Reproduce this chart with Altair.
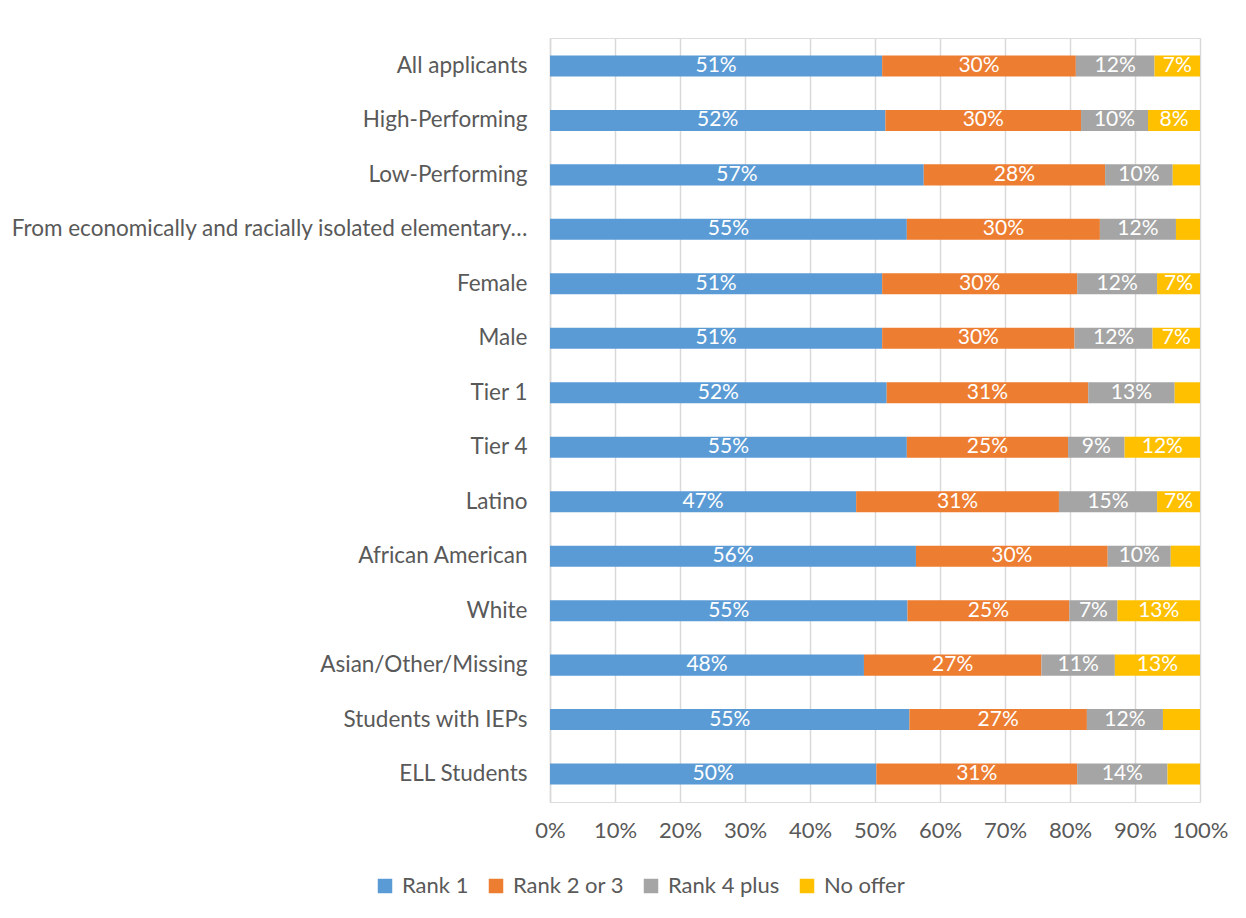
import altair as alt
import pandas as pd

categories = [
    "All applicants", "High-Performing", "Low-Performing",
    "From economically and racially isolated elementary…",
    "Female", "Male", "Tier 1", "Tier 4", "Latino", "African American",
    "White", "Asian/Other/Missing", "Students with IEPs", "ELL Students",
]
series = ["Rank 1", "Rank 2 or 3", "Rank 4 plus", "No offer"]
rank1 = [51.1, 51.6, 57.5, 54.9, 51.1, 51.1, 51.8, 54.9, 47.1, 56.3, 55.0, 48.3, 55.3, 50.2]
rank23 = [29.8, 30.1, 27.9, 29.7, 30.0, 29.6, 31.0, 24.8, 31.2, 29.5, 24.9, 27.3, 27.3, 30.9]
rank4 = [12.1, 10.3, 10.4, 11.7, 12.3, 12.0, 13.3, 8.7, 15.1, 9.7, 7.4, 11.3, 11.7, 13.9]
nooffer = [7.0, 8.0, 4.2, 3.7, 6.6, 7.3, 3.9, 11.6, 6.6, 4.5, 12.7, 13.1, 5.7, 5.0]
colors = ["#5B9BD5", "#ED7D31", "#A5A5A5", "#FFC000"]

rows = []
for i, c in enumerate(categories):
    for j, (s, vals) in enumerate(zip(series, [rank1, rank23, rank4, nooffer])):
        rows.append({"cat": c, "series": s, "order": j, "v": vals[i]})
df = pd.DataFrame(rows)

FONT = "Lato"
TXT = "#595959"

base = alt.Chart(df).transform_stack(
    stack="v", groupby=["cat"], as_=["x0", "x1"], offset="normalize",
    sort=[alt.SortField("order", order="ascending")],
).transform_calculate(
    mid="(datum.x0 + datum.x1) / 2",
    lab="datum.v >= 6 ? format(datum.v / 100, '.0%') : ''",
)

y_enc = alt.Y(
    "cat:N", sort=categories, title=None,
    scale=alt.Scale(paddingInner=0.614, paddingOuter=0.32),
    axis=alt.Axis(
        labelFont=FONT, labelFontSize=22.5, labelColor=TXT, labelPadding=23,
        ticks=False, domainColor="#D9D9D9", domainWidth=1.5,
        minExtent=542, maxExtent=542, labelLimit=540,
    ),
)

bars = base.mark_bar().encode(
    y=y_enc,
    x=alt.X(
        "x0:Q", title=None,
        scale=alt.Scale(domain=[0, 1], nice=False),
        axis=alt.Axis(
            format=".0%", values=[i / 10 for i in range(11)],
            labelFont=FONT, labelFontSize=22, labelColor=TXT, labelPadding=18,
            labelOverlap=False, labelFlush=False,
            ticks=False, domain=False, gridColor="#D9D9D9", gridWidth=1.5,
        ),
    ),
    x2="x1:Q",
    color=alt.Color(
        "series:N",
        scale=alt.Scale(domain=series, range=colors),
        legend=alt.Legend(
            title=None, orient="none", legendX=-176, legendY=837,
            direction="horizontal", columns=4,
            symbolType="square", symbolSize=210, symbolStrokeWidth=0,
            labelFont=FONT, labelFontSize=22, labelColor=TXT,
            columnPadding=16, labelOffset=6,
        ),
    ),
)

labels = base.mark_text(color="white", font=FONT, fontSize=21).encode(
    y=alt.Y("cat:N", sort=categories),
    x=alt.X("mid:Q"),
    text="lab:N",
)

chart = (bars + labels).properties(
    width=650, height=764,
    padding={"left": 0, "top": 30, "right": 10, "bottom": 5},
).configure_view(stroke=None).configure(background="white")

chart.save("out.html", embed_options={"renderer": "svg", "actions": False})
